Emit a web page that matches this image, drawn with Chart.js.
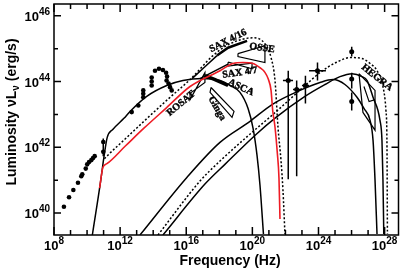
<!DOCTYPE html>
<html>
<head>
<meta charset="utf-8">
<script src="https://cdn.jsdelivr.net/npm/chart.js@4.4.0/dist/chart.umd.min.js"></script>
<style>
  html, body { margin: 0; padding: 0; background: #fff; }
  #wrap { width: 404px; height: 273px; }
</style>
</head>
<body>
<div id="wrap"><canvas id="sed" width="404" height="273"></canvas></div>
<script>
// Values are log10(frequency / Hz) and log10(nuL_nu / erg s^-1).

// ----- axis ticks -----
const xDecades = [8, 9, 10, 11, 12, 13, 14, 15, 16, 17, 18, 19, 20, 21, 22, 23, 24, 25, 26, 27, 28];
const xLabelled = [8, 12, 16, 20, 24, 28];
const yDecades = [40, 41, 42, 43, 44, 45, 46];
const yLabelled = [40, 42, 44, 46];

// ----- synchrotron models -----
const syncSolidNu = [10.32, 10.83, 11.02, 11.22, 11.57, 12.23, 12.60, 13.61, 14.82, 15.80, 16.95, 18.04, 18.65, 19.25, 19.74, 20.04, 20.28, 20.46, 20.67];
const syncSolidL  = [39.33, 41.00, 41.70, 42.30, 42.55, 42.88, 43.09, 43.55, 43.88, 44.03, 44.09, 44.03, 43.88, 43.67, 43.18, 42.58, 41.76, 40.85, 39.36];

const syncDotNu = [11.05, 11.30, 12.30, 13.44, 15.02, 16.23, 17.62, 18.65, 20.04, 20.76, 21.13, 21.37, 21.55, 21.73, 21.85, 21.97];
const syncDotL  = [41.65, 41.78, 42.25, 42.79, 43.52, 44.06, 44.79, 45.15, 45.33, 45.15, 44.73, 44.03, 42.61, 41.61, 40.70, 39.36];

const syncRedNu = [10.76, 10.96, 11.20, 12.30, 13.44, 14.80, 16.23, 18.04, 18.83, 19.43, 20.04, 20.46, 20.76, 20.95, 21.13, 21.23, 21.37, 21.51, 21.61, 21.67];
const syncRedL  = [40.76, 41.39, 41.50, 42.03, 42.58, 43.20, 43.85, 44.33, 44.55, 44.58, 44.55, 44.42, 44.28, 44.09, 43.73, 43.12, 42.61, 41.82, 41.06, 39.82];

// ----- inverse Compton models -----
const icANu = [13.20, 16.05, 18.04, 19.86, 21.19, 22.88, 24.09, 24.88, 25.60, 26.33, 26.75, 27.12, 27.30, 27.42, 27.54];
const icAL  = [39.33, 41.09, 42.15, 42.79, 43.30, 43.73, 43.97, 44.06, 43.91, 43.52, 43.18, 42.82, 42.21, 41.00, 39.36];

const icBNu = [14.59, 17.13, 18.34, 20.22, 21.43, 23.18, 24.39, 25.30, 26.03, 26.63, 26.94, 27.30, 27.72, 27.84, 27.90, 27.95];
const icBL  = [39.33, 40.88, 41.48, 42.39, 42.91, 43.55, 43.91, 44.15, 44.24, 44.15, 44.03, 43.52, 42.82, 42.21, 41.00, 39.36];

const icDotNu = [14.29, 16.83, 18.04, 20.04, 21.25, 23.06, 24.09, 25.06, 25.97, 26.63, 27.12, 27.54, 27.90, 28.08, 28.14, 28.17];
const icDotL  = [39.33, 40.97, 41.58, 42.48, 43.00, 43.82, 44.27, 44.58, 44.73, 44.70, 44.55, 44.33, 43.85, 43.12, 42.21, 39.36];

// ----- measured points -----
const radioNu = [8.60, 8.91, 9.17, 9.45, 9.65, 9.71, 9.92, 10.01, 10.12, 10.26, 10.36, 10.46];
const radioL  = [40.19, 40.48, 40.70, 40.92, 41.12, 41.18, 41.35, 41.48, 41.55, 41.61, 41.67, 41.73];

const mmNu = [10.98, 10.98];
const mmL  = [42.16, 41.86];
const mmLo = [41.73, 41.73];
const mmHi = [42.27, 42.27];

const irNu = [12.70, 13.10, 13.40, 13.40, 13.40, 13.91, 13.91, 13.91, 14.11, 14.35, 14.59, 14.78, 14.84, 14.81, 14.93, 15.02, 15.12];
const irL  = [43.07, 43.27, 43.73, 43.63, 43.52, 44.12, 44.00, 43.88, 44.33, 44.39, 44.35, 44.27, 44.15, 44.03, 43.94, 43.83, 43.73];

const gevNu   = [22.17, 22.68, 23.21, 23.94];
const gevL    = [44.03, 43.76, 43.88, 44.33];
const gevLLo  = [41.03, 41.12, 43.33, 44.03];
const gevLHi  = [44.33, 44.03, 44.18, 44.58];
const gevNuLo = [21.85, 22.46, 23.00, 23.43];
const gevNuHi = [22.46, 22.94, 23.43, 24.45];

const tevNu  = [26.01, 26.01, 26.01];
const tevL   = [44.91, 44.08, 43.39];
const tevLLo = [44.76, 43.79, 43.12];
const tevLHi = [45.06, 44.27, 43.67];

// ----- X-ray / gamma spectra (bow ties) -----
const rosatNu = [16.23, 17.13, 17.13, 16.23, 16.23];
const rosatL  = [43.64, 43.97, 44.27, 43.45, 43.64];
const gingaNu = [17.50, 18.89, 18.77, 17.44, 17.50];
const gingaL  = [43.82, 43.09, 42.91, 43.67, 43.82];
const ascaNu = [17.13, 17.74, 18.53];
const ascaL  = [44.18, 44.06, 43.88];
const sax7Nu = [18.53, 19.98, 19.98, 18.53, 18.53];
const sax7L  = [44.59, 44.39, 44.56, 44.47, 44.59];
const sax7LineNu = [16.83, 18.53];
const sax7LineL  = [44.09, 44.53];
const sax16Nu = [16.35, 17.13, 17.86];
const sax16L  = [44.09, 44.45, 44.79];
const sax16ThickNu = [17.86, 18.53, 19.68];
const sax16ThickL  = [44.79, 45.03, 45.24];
const osseNu = [19.13, 20.76, 20.76, 19.13, 19.13];
const osseL  = [44.85, 45.09, 44.58, 44.76, 44.85];
const hegraNu = [26.45, 27.42, 27.42, 26.69, 26.45];
const hegraL  = [44.24, 43.73, 42.52, 43.06, 44.24];
const hegraInNu = [26.75, 27.06, 27.42];
const hegraInL  = [43.85, 43.39, 43.45];

// ----- instrument labels -----
const labelText = ['SAX 4/16', 'OSSE', 'SAX 4/7', 'ASCA', 'Ginga', 'ROSAT', 'HEGRA'];
const labelNu = [18.53, 20.58, 19.25, 19.31, 17.86, 15.68, 27.54];
const labelL  = [45.24, 45.02, 44.27, 43.82, 43.18, 43.33, 44.12];
const labelAngle = [-27, 8, -8, 25, 60, -40, 38];

function pts(xs, ys) {
  return xs.map((x, i) => ({ x: Math.pow(10, x), y: Math.pow(10, ys[i]) }));
}

function curve(xs, ys, color, dash, width) {
  return {
    data: pts(xs, ys),
    borderColor: color,
    borderWidth: width || 1.5,
    borderDash: dash || [],
    pointRadius: 0,
    fill: false,
    cubicInterpolationMode: 'monotone',
  };
}

function outline(xs, ys, width) {
  return {
    data: pts(xs, ys),
    borderColor: '#000',
    borderWidth: width || 1.2,
    pointRadius: 0,
    fill: false,
    tension: 0,
  };
}

function dots(xs, ys, r) {
  return {
    data: pts(xs, ys),
    showLine: false,
    pointRadius: r,
    pointBackgroundColor: '#000',
    pointBorderColor: '#000',
    pointBorderWidth: 0,
  };
}

const decor = {
  id: 'decor',
  afterDatasetsDraw(chart) {
    const { ctx, scales: { x, y } } = chart;
    const px = v => x.getPixelForValue(Math.pow(10, v));
    const py = v => y.getPixelForValue(Math.pow(10, v));
    ctx.save();
    ctx.strokeStyle = '#000';
    ctx.lineWidth = 1.5;
    ctx.beginPath();
    mmNu.forEach((n, i) => {
      ctx.moveTo(px(n), py(mmLo[i])); ctx.lineTo(px(n), py(mmHi[i]));
    });
    gevNu.forEach((n, i) => {
      ctx.moveTo(px(n), py(gevLLo[i])); ctx.lineTo(px(n), py(gevLHi[i]));
      ctx.moveTo(px(gevNuLo[i]), py(gevL[i])); ctx.lineTo(px(gevNuHi[i]), py(gevL[i]));
    });
    tevNu.forEach((n, i) => {
      ctx.moveTo(px(n), py(tevLLo[i])); ctx.lineTo(px(n), py(tevLHi[i]));
    });
    ctx.stroke();

    // instrument names
    ctx.fillStyle = '#000';
    ctx.strokeStyle = '#000';
    ctx.lineWidth = 0.4;
    ctx.font = 'bold 10px "Liberation Serif"';
    ctx.textAlign = 'center';
    ctx.textBaseline = 'middle';
    labelText.forEach((t, i) => {
      ctx.save();
      ctx.translate(px(labelNu[i]), py(labelL[i]));
      ctx.rotate(labelAngle[i] * Math.PI / 180);
      ctx.fillText(t, 0, 0);
      ctx.strokeText(t, 0, 0);
      ctx.restore();
    });
    ctx.restore();
  },
  afterDraw(chart) {
    const { ctx, chartArea: a, scales: { x, y } } = chart;
    const px = v => x.getPixelForValue(Math.pow(10, v));
    const py = v => y.getPixelForValue(Math.pow(10, v));
    ctx.save();
    ctx.strokeStyle = '#000';
    ctx.lineWidth = 1.5;
    ctx.strokeRect(a.left, a.top, a.right - a.left, a.bottom - a.top);

    ctx.beginPath();
    xDecades.forEach(d => {
      const len = xLabelled.includes(d) ? 8 : 5;
      const p = px(d);
      ctx.moveTo(p, a.bottom); ctx.lineTo(p, a.bottom - len);
      ctx.moveTo(p, a.top); ctx.lineTo(p, a.top + len);
    });
    yDecades.forEach(d => {
      const len = yLabelled.includes(d) ? 7 : 4;
      const p = py(d);
      ctx.moveTo(a.left, p); ctx.lineTo(a.left + len, p);
      ctx.moveTo(a.right, p); ctx.lineTo(a.right - len, p);
    });
    ctx.stroke();

    ctx.fillStyle = '#000';
    ctx.textAlign = 'left';
    ctx.textBaseline = 'alphabetic';
    const big = 'bold 13px "Liberation Sans"';
    const small = 'bold 10px "Liberation Sans"';
    function pow10(exp, left, base) {
      ctx.font = big;
      const w = ctx.measureText('10').width;
      ctx.fillText('10', left, base);
      ctx.font = small;
      ctx.fillText(String(exp), left + w, base - 6);
    }
    function powWidth(exp) {
      ctx.font = big;
      const w = ctx.measureText('10').width;
      ctx.font = small;
      return w + ctx.measureText(String(exp)).width;
    }
    xLabelled.forEach(d => {
      const w = powWidth(d);
      pow10(d, px(d) - w / 2, 250);
    });
    yLabelled.forEach(d => {
      const w = powWidth(d);
      pow10(d, a.left - 4 - w, py(d) + 5);
    });

    // axis titles
    ctx.font = 'bold 14px "Liberation Sans"';
    ctx.textAlign = 'center';
    ctx.fillText('Frequency (Hz)', 230, 265);

    ctx.save();
    ctx.translate(16, 112);
    ctx.rotate(-Math.PI / 2);
    const parts = [
      { t: 'Luminosity \u03bdL', f: 'bold 14px "Liberation Sans"', dy: 0 },
      { t: '\u03bd', f: 'bold 10px "Liberation Sans"', dy: 3 },
      { t: ' (erg/s)', f: 'bold 14px "Liberation Sans"', dy: 0 },
    ];
    let total = 0;
    parts.forEach(p => { ctx.font = p.f; p.w = ctx.measureText(p.t).width; total += p.w; });
    ctx.textAlign = 'left';
    let cx = -total / 2;
    parts.forEach(p => { ctx.font = p.f; ctx.fillText(p.t, cx, p.dy); cx += p.w; });
    ctx.restore();
    ctx.restore();
  },
};

const datasets = [
  curve(syncRedNu, syncRedL, '#ee1c25', null, 1.6),
  curve(syncSolidNu, syncSolidL, '#000'),
  curve(syncDotNu, syncDotL, '#000', [2, 2]),
  curve(icANu, icAL, '#000'),
  curve(icBNu, icBL, '#000'),
  curve(icDotNu, icDotL, '#000', [2, 2]),
  outline(rosatNu, rosatL),
  outline(gingaNu, gingaL),
  outline(ascaNu, ascaL, 3.5),
  outline(sax7Nu, sax7L),
  outline(sax7LineNu, sax7LineL, 1.5),
  outline(sax16Nu, sax16L, 1.5),
  outline(sax16ThickNu, sax16ThickL, 2.5),
  outline(osseNu, osseL),
  outline(hegraNu, hegraL),
  outline(hegraInNu, hegraInL),
  dots(radioNu, radioL, 2.3),
  dots(mmNu, mmL, 2.3),
  dots(irNu, irL, 2.3),
  dots(gevNu, gevL, 2.5),
  dots(tevNu, tevL, 2.5),
];

new Chart(document.getElementById('sed'), {
  type: 'line',
  data: { datasets },
  options: {
    responsive: false,
    animation: false,
    devicePixelRatio: 1,
    layout: { padding: { left: 54, right: 5.5, top: 3, bottom: 38 } },
    plugins: { legend: { display: false }, tooltip: { enabled: false } },
    scales: {
      x: { type: 'logarithmic', display: false, min: 1e8, max: Math.pow(10, 28.84) },
      y: { type: 'logarithmic', display: false, min: Math.pow(10, 39.33), max: Math.pow(10, 46.36) },
    },
  },
  plugins: [decor],
});
</script>
</body>
</html>
